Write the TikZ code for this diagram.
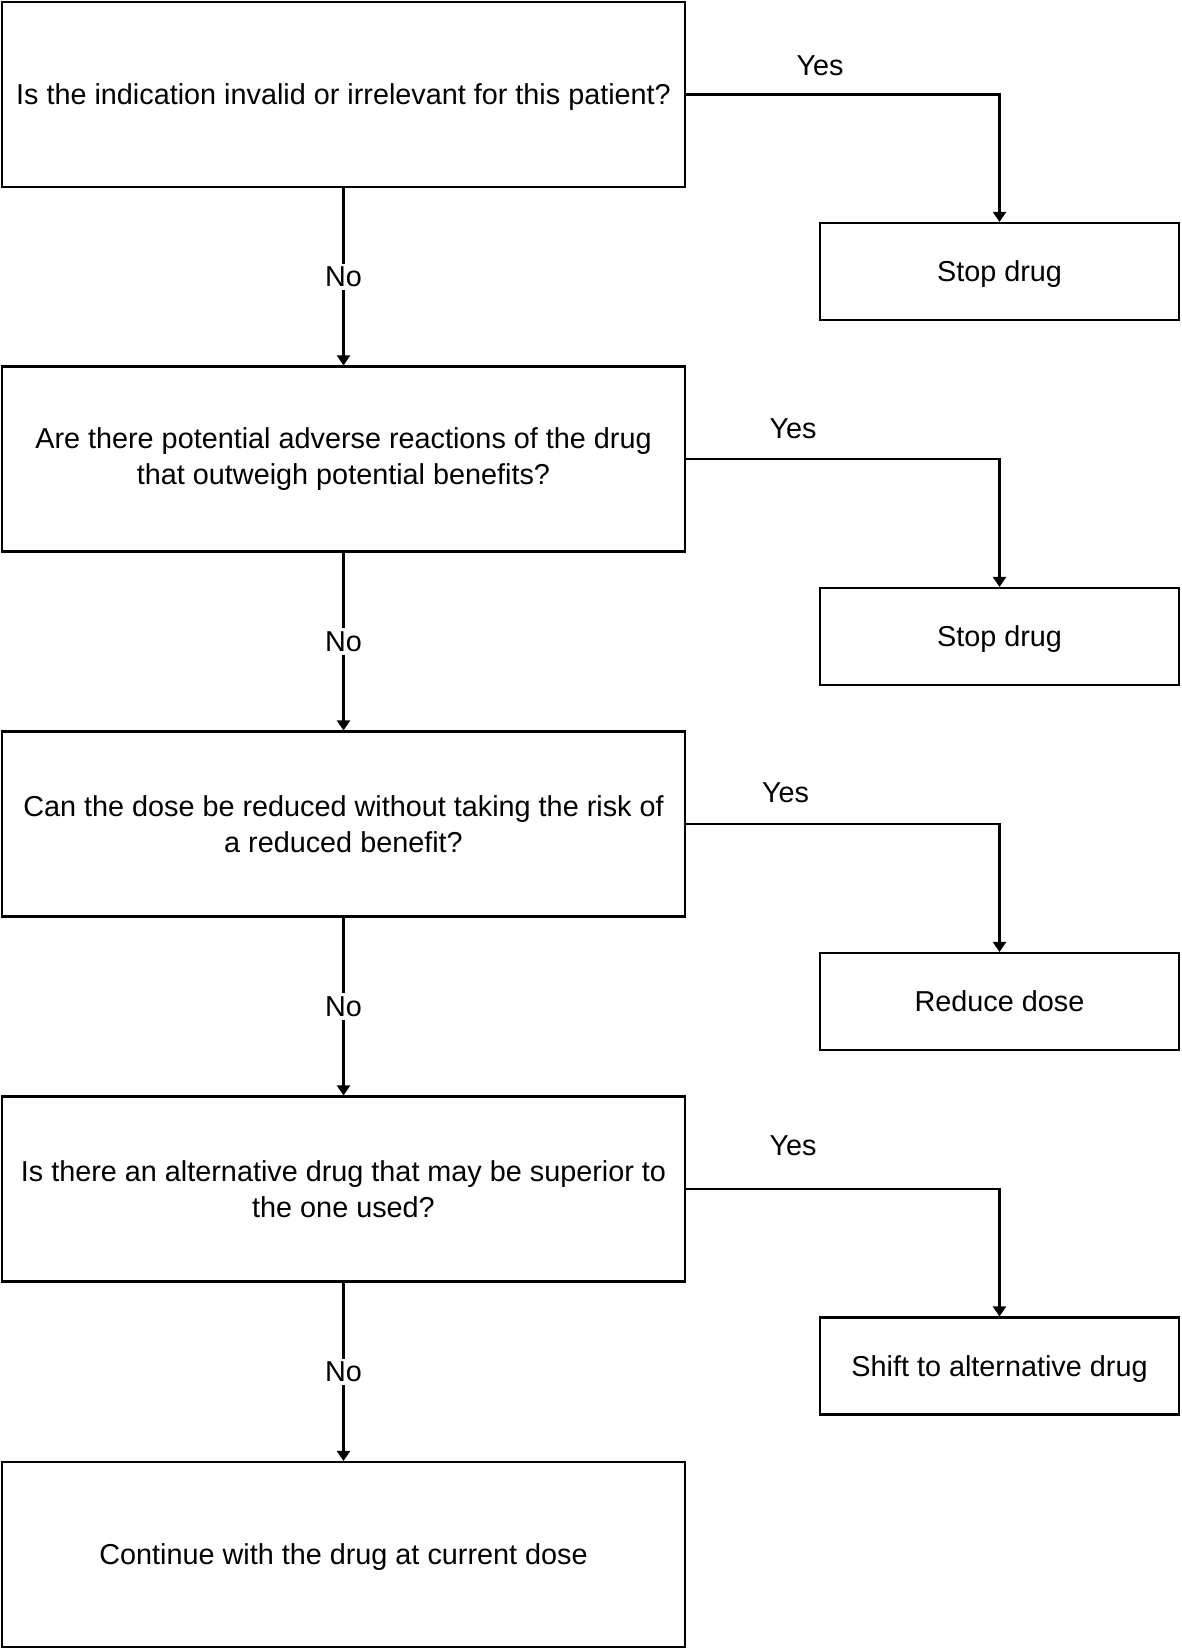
\documentclass[tikz,border=0pt]{standalone}
\usepackage{fontspec}
\setmainfont{Liberation Sans}
\usetikzlibrary{arrows.meta}
\begin{document}
\begin{tikzpicture}[x=1pt,y=1pt,
  every node/.style={font=\fontsize{28.8}{36}\selectfont},
  qbox/.style={draw, line width=2.1pt, minimum width=683pt, minimum height=185pt, align=center, inner sep=0pt},
  abox/.style={draw, line width=2.1pt, minimum width=359pt, minimum height=97pt, align=center, inner sep=0pt},
  conn/.style={line width=2.1pt, -{Triangle[width=13pt,length=10pt]}},
  lbl/.style={fill=white, inner sep=3pt}]
\useasboundingbox (0,0) rectangle (1181,-1649);
\node[qbox, text depth=0pt] (q1) at (343.5,-94.5) {Is the indication invalid or irrelevant for this patient?};
\node[qbox] (q2) at (343.5,-459) {Are there potential adverse reactions of the drug\\that outweigh potential benefits?};
\node[qbox] (q3) at (343.5,-824) {Can the dose be reduced without taking the risk of\\a reduced benefit?};
\node[qbox] (q4) at (343.5,-1189) {Is there an alternative drug that may be superior to\\the one used?};
\node[qbox, text depth=0pt] (q5) at (343.5,-1554.5) {Continue with the drug at current dose};
\node[abox, text depth=0pt] (a1) at (999.5,-271.5) {Stop drug};
\node[abox, text depth=0pt] (a2) at (999.5,-636.5) {Stop drug};
\node[abox, text depth=0pt] (a3) at (999.5,-1001.5) {Reduce dose};
\node[abox, text depth=0pt] (a4) at (999.5,-1366) {Shift to alternative drug};
\foreach \q/\n in {q1/q2,q2/q3,q3/q4,q4/q5}{
  \draw[conn] (\q.south) -- node[lbl] {No} (\n.north);
}
\foreach \q/\a in {q1/a1,q2/a2,q3/a3,q4/a4}{
  \draw[conn] (\q.east) -| (\a.north);
}
\node (y1) at (820,-66) {Yes};
\node (y2) at (793,-429) {Yes};
\node (y3) at (785.5,-793) {Yes};
\node (y4) at (793,-1146) {Yes};
\end{tikzpicture}
\end{document}
